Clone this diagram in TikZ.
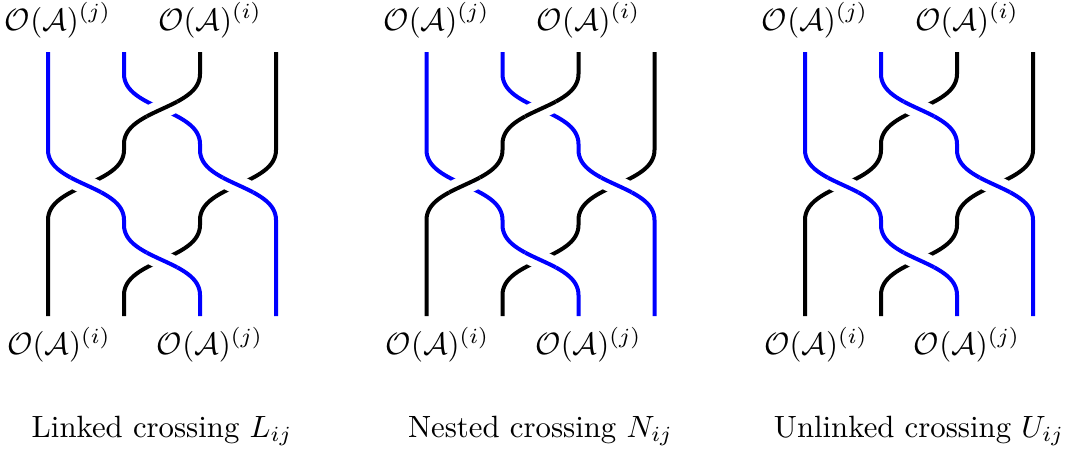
\documentclass[tikz,border=0pt]{standalone}
\usepackage{amsmath}
\usepackage{amssymb}
\usetikzlibrary{positioning,calc}

\begin{document}
\begin{tikzpicture}[x=0.325pt, y=-0.325pt]
\tikzset{
  strand/.style={line width=1.3pt},
  bluestrand/.style={strand, draw=blue},
  blackstrand/.style={strand, draw=black},
  overpass/.style={line width=6.3pt, draw=white},
  endlab/.style={anchor=base, inner sep=0pt, font=\normalsize},
  caption/.style={anchor=base, inner sep=0pt}
}
\useasboundingbox (0,0) rectangle (1067,452);

% the same four strands in each panel
\foreach \sx/\p/\txt in {0/L/{Linked crossing $L_{ij}$},
    378.5/N/{Nested crossing $N_{ij}$},
    757/U/{Unlinked crossing $U_{ij}$}} {
  \draw[bluestrand] ({\sx+48},52) -- ({\sx+48},150)
    .. controls +(0,35) and +(0,-35) .. ({\sx+124},220) -- ({\sx+124},225)
    .. controls +(0,35) and +(0,-35) .. ({\sx+200},295) -- ({\sx+200},316);
  \draw[bluestrand] ({\sx+124},52) -- ({\sx+124},74)
    .. controls +(0,35) and +(0,-35) .. ({\sx+200},144) -- ({\sx+200},150)
    .. controls +(0,35) and +(0,-35) .. ({\sx+276},220) -- ({\sx+276},316);
  \draw[blackstrand] ({\sx+200},52) -- ({\sx+200},74)
    .. controls +(0,35) and +(0,-35) .. ({\sx+124},144) -- ({\sx+124},150)
    .. controls +(0,35) and +(0,-35) .. ({\sx+48},220) -- ({\sx+48},316);
  \draw[blackstrand] ({\sx+276},52) -- ({\sx+276},150)
    .. controls +(0,35) and +(0,-35) .. ({\sx+200},220) -- ({\sx+200},225)
    .. controls +(0,35) and +(0,-35) .. ({\sx+124},295) -- ({\sx+124},316);

  \node[endlab] (top-j-\p) at ({\sx+58},30) {$\mathcal{O}(\mathcal{A})^{(j)}$};
  \node[endlab] (top-i-\p) at ({\sx+210},30) {$\mathcal{O}(\mathcal{A})^{(i)}$};
  \node[endlab] (bot-i-\p) at ({\sx+59},355) {$\mathcal{O}(\mathcal{A})^{(i)}$};
  \node[endlab] (bot-j-\p) at ({\sx+210},355) {$\mathcal{O}(\mathcal{A})^{(j)}$};
  \node[caption] (cap-\p) at ({\sx+162},437) {\txt};
}

% which strand passes over at each crossing
\foreach \sx/\col/\xa/\ya/\xb/\yb in {
    0/black/200/74/124/144, 0/blue/48/150/124/220,
    0/blue/200/150/276/220, 0/blue/124/225/200/295,
    378.5/black/200/74/124/144, 378.5/black/124/150/48/220,
    378.5/blue/200/150/276/220, 378.5/blue/124/225/200/295,
    757/blue/124/74/200/144, 757/blue/48/150/124/220,
    757/blue/200/150/276/220, 757/blue/124/225/200/295} {
  \begin{scope}
    \clip ({\sx+(\xa+\xb)/2},{(\ya+\yb)/2}) circle (17);
    \draw[overpass] ({\sx+\xa},\ya) .. controls +(0,35) and +(0,-35) .. ({\sx+\xb},\yb);
    \draw[strand, draw=\col] ({\sx+\xa},\ya) .. controls +(0,35) and +(0,-35) .. ({\sx+\xb},\yb);
  \end{scope}
}
\end{tikzpicture}
\end{document}
